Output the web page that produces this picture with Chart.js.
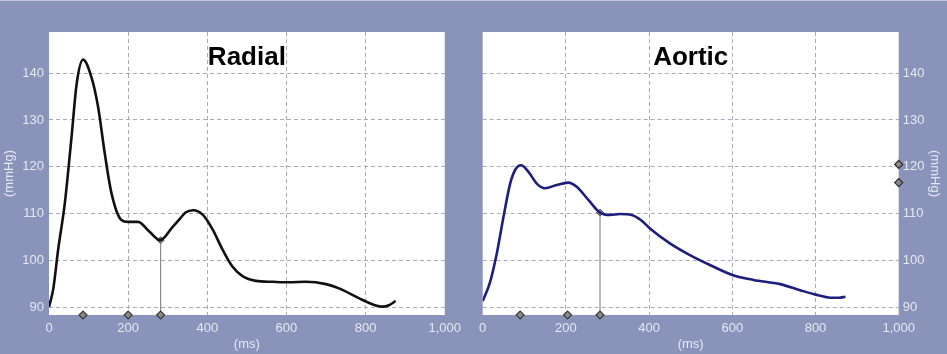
<!DOCTYPE html>
<html>
<head>
<meta charset="utf-8">
<script src="https://cdn.jsdelivr.net/npm/chart.js@4/dist/chart.umd.min.js"></script>
<style>
  html, body { margin: 0; padding: 0; }
  body { width: 947px; height: 354px; background: #8a93b9; position: relative; overflow: hidden; }
  #topline { position: absolute; left: 0; top: 0; width: 947px; height: 1px; background: #c4c8dc; }
  canvas { position: absolute; top: 0; }
  #c1 { left: 0; }
  #c2 { left: 467px; }
</style>
</head>
<body>
<div id="topline"></div>
<canvas id="c1" width="467" height="354"></canvas>
<canvas id="c2" width="480" height="354"></canvas>
<script>
// ---- data (time in ms, pressure in mmHg) ----
const radialTime = [0, 11, 23, 40, 57, 70, 86, 107, 124, 141, 158, 183, 200, 225, 254, 281, 313, 330, 345, 364, 389, 414, 439, 464, 489, 523, 565, 607, 649, 700, 733, 783, 817, 842, 859, 876];
const radialPressure = [90.0, 94.0, 102.2, 112.2, 126.4, 137.8, 142.9, 139.2, 132.8, 122.8, 114.3, 108.6, 108.2, 108.2, 106.1, 104.3, 107.2, 108.8, 110.2, 110.7, 109.7, 106.5, 102.2, 98.6, 96.6, 95.6, 95.4, 95.3, 95.4, 94.9, 94.0, 91.9, 90.6, 90.1, 90.4, 91.3];
const aorticTime = [0, 17, 34, 50, 66, 78, 92, 110, 130, 150, 178, 206, 226, 254, 282, 306, 330, 358, 380, 402, 450, 498, 546, 602, 651, 715, 763, 803, 836, 856, 872];
const aorticPressure = [91.3, 95.1, 101.5, 109.3, 116.4, 119.3, 120.3, 118.9, 116.4, 115.4, 116.1, 116.6, 115.7, 112.9, 110.2, 109.7, 109.9, 109.7, 108.6, 106.8, 103.6, 101.1, 99.0, 96.8, 95.8, 94.9, 93.6, 92.6, 92.0, 92.0, 92.2];
const radialMarkers = [86, 200, 282];
const aorticMarkers = [90, 204, 282];
const radialCursor = { time: 282, pressure: 104.3 };
const aorticCursor = { time: 282, pressure: 110.2 };
const aorticSideMarkers = [120.5, 116.6];
const yTicks = [90, 100, 110, 120, 130, 140];
const xTicks = [0, 200, 400, 600, 800, 1000];
const yMin = 88.3, yMax = 148.8;
const xMin = 0, xMax = 1000;
const titles = ['Radial', 'Aortic'];

const labelColor = '#e6e8f3';
const gridColor = '#a9abbd';
const fontFam = '"Liberation Sans", Arial, sans-serif';

const bgPlugin = {
  id: 'plotBg',
  beforeDraw(chart) {
    const a = chart.chartArea, ctx = chart.ctx;
    ctx.save();
    ctx.fillStyle = '#ffffff';
    ctx.fillRect(a.left, a.top, a.right - a.left, a.bottom - a.top);
    ctx.restore();
  }
};
const titlePlugin = {
  id: 'inTitle',
  afterDraw(chart) {
    const a = chart.chartArea, ctx = chart.ctx;
    ctx.save();
    ctx.font = 'bold 26px ' + fontFam;
    ctx.fillStyle = '#000';
    ctx.textAlign = 'center';
    ctx.textBaseline = 'alphabetic';
    ctx.fillText(chart.options.plugins.inTitle.text, (a.left + a.right) / 2, a.top + 33);
    ctx.restore();
  }
};

function toPts(xs, ys) { return xs.map((x, i) => ({ x: x, y: ys[i] })); }

function makeChart(id, cfg) {
  const datasets = [
    {
      data: [{ x: cfg.cursor.time, y: yMin }, { x: cfg.cursor.time, y: cfg.cursor.pressure }],
      borderColor: '#8c8c8c', borderWidth: 1.2, pointRadius: [0, 3.5], pointStyle: 'rectRot',
      pointBackgroundColor: '#8a8a8a', pointBorderColor: '#555', pointBorderWidth: 1, order: 2
    },
    {
      data: toPts(cfg.time, cfg.pressure),
      borderColor: cfg.color, borderWidth: 2.6, pointRadius: 0, tension: 0.4,
      cubicInterpolationMode: 'monotone', order: 1
    },
    {
      data: cfg.markers.map(t => ({ x: t, y: yMin })),
      showLine: false, pointStyle: 'rectRot', pointRadius: 4,
      pointBackgroundColor: '#8a8a8a', pointBorderColor: '#3a3a3a', pointBorderWidth: 1.2,
      clip: false, order: 0
    }
  ];
  if (cfg.side) {
    datasets.push({
      data: cfg.side.map(v => ({ x: xMax, y: v })),
      showLine: false, pointStyle: 'rectRot', pointRadius: 4,
      pointBackgroundColor: '#8a8a8a', pointBorderColor: '#2a2a2a', pointBorderWidth: 1.2,
      clip: false, order: 0
    });
  }
  const yPos = cfg.yPos;
  return new Chart(document.getElementById(id), {
    type: 'line',
    data: { datasets: datasets },
    plugins: [bgPlugin, titlePlugin],
    options: {
      responsive: false, animation: false, devicePixelRatio: 1,
      layout: { padding: cfg.padding },
      plugins: { legend: { display: false }, tooltip: { enabled: false }, inTitle: { text: cfg.title } },
      scales: {
        x: {
          type: 'linear', min: xMin, max: xMax,
          afterBuildTicks: s => { s.ticks = xTicks.map(v => ({ value: v })); },
          ticks: { color: labelColor, font: { family: fontFam, size: 13 }, padding: 6, maxRotation: 0 },
          grid: {
            drawTicks: false, lineWidth: 1,
            color: c => (c.tick && (c.tick.value === xMin || c.tick.value === xMax)) ? 'rgba(0,0,0,0)' : gridColor
          },
          border: { display: false, dash: [4, 3] },
          title: { display: true, text: '(ms)', color: labelColor, font: { family: fontFam, size: 13 }, padding: { top: 0, bottom: 2 } },
          afterFit: s => { s.height = 39; }
        },
        y: {
          type: 'linear', position: yPos, min: yMin, max: yMax,
          afterBuildTicks: s => { s.ticks = yTicks.map(v => ({ value: v })); },
          ticks: { color: labelColor, font: { family: fontFam, size: 13 }, padding: cfg.tickPad },
          grid: { drawTicks: false, color: gridColor, lineWidth: 1 },
          border: { display: false, dash: [4, 3] },
          title: { display: true, text: '(mmHg)', color: labelColor, font: { family: fontFam, size: 13 }, padding: { top: cfg.titlePad, bottom: 0 } },
          afterFit: s => { s.width = cfg.yWidth; }
        }
      }
    }
  });
}

makeChart('c1', {
  time: radialTime, pressure: radialPressure, markers: radialMarkers, cursor: radialCursor,
  color: '#111111', title: titles[0], yPos: 'left', yWidth: 49, tickPad: 5, titlePad: 2,
  padding: { left: 0, right: 21, top: 32, bottom: 0 }
});
makeChart('c2', {
  time: aorticTime, pressure: aorticPressure, markers: aorticMarkers, cursor: aorticCursor, side: aorticSideMarkers,
  color: '#1e1e7e', title: titles[1], yPos: 'right', yWidth: 48.3, tickPad: 4, titlePad: 5,
  padding: { left: 15.7, right: 0, top: 32, bottom: 0 }
});
</script>
</body>
</html>
